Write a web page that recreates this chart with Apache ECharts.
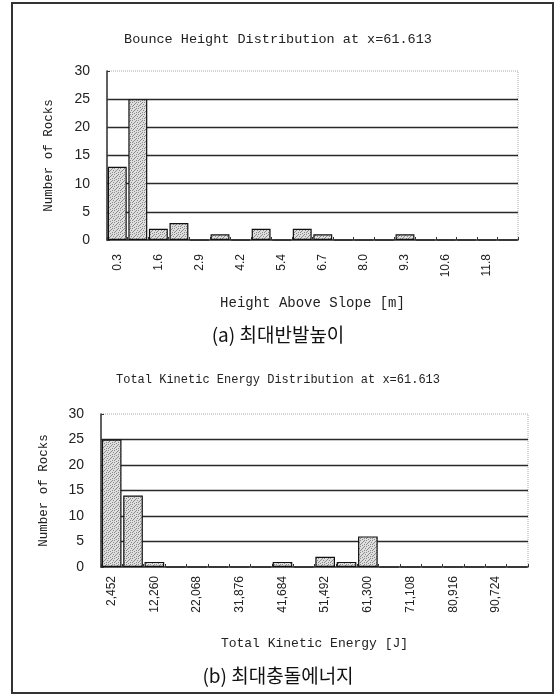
<!DOCTYPE html>
<html>
<head>
<meta charset="utf-8">
<script src="https://cdn.jsdelivr.net/npm/echarts@6/dist/echarts.min.js"></script>
<style>
  html, body { margin: 0; padding: 0; background: #fff; }
  #chart { width: 556px; height: 696px; }
</style>
</head>
<body>
<div id="chart"></div>
<script>
// Bounce height histogram (bins in metres)
const heightBins = ['0.3', '0.9', '1.6', '2.2', '2.9', '3.5', '4.2', '4.8', '5.4', '6.1',
                    '6.7', '7.3', '8.0', '8.6', '9.3', '9.9', '10.6', '11.2', '11.8', '12.5'];
const heightCounts = [13, 25, 2, 3, 0, 1, 0, 2, 0, 2, 1, 0, 0, 0, 1, 0, 0, 0, 0, 0];

// Total kinetic energy histogram (bins in joules)
const energyBins = ['2,452', '7,356', '12,260', '17,164', '22,068', '26,972', '31,876', '36,780',
                    '41,684', '46,588', '51,492', '56,396', '61,300', '66,204', '71,108', '76,012',
                    '80,916', '85,820', '90,724', '95,628'];
const energyCounts = [25, 14, 1, 0, 0, 0, 0, 0, 1, 0, 2, 1, 6, 0, 0, 0, 0, 0, 0, 0];

const yTicks = [0, 5, 10, 15, 20, 25, 30];

// Stippled grey fill for the bars
function stipple() {
  const c = document.createElement('canvas');
  c.width = 6; c.height = 6;
  const g = c.getContext('2d');
  g.fillStyle = '#dedede';
  g.fillRect(0, 0, 6, 6);
  g.fillStyle = '#8a8a8a';
  const dots = [[0,0],[3,1],[1,3],[4,4],[2,5],[5,2],[0,4],[4,0],[2,2]];
  dots.forEach(d => g.fillRect(d[0], d[1], 1, 1));
  return { image: c, repeat: 'repeat' };
}

const mono = 'Liberation Mono';
const ink = '#222';

function xAxisFor(idx, bins, name, nameSize, labelMargin, nameGap) {
  return {
    type: 'category', gridIndex: idx, data: bins,
    name: name, nameLocation: 'middle', nameGap: nameGap,
    nameTextStyle: { fontFamily: mono, fontSize: nameSize, color: ink },
    axisLine: { lineStyle: { color: '#333', width: 1.5 } },
    axisTick: { show: true, inside: true, length: 3, interval: 0, alignWithLabel: false,
                lineStyle: { color: '#333' } },
    axisLabel: { interval: 1, rotate: 90, margin: labelMargin, fontFamily: 'Liberation Sans',
                 fontSize: 12, color: ink },
    splitLine: { show: false }
  };
}

function yAxisFor(idx, nameGap) {
  return {
    type: 'value', gridIndex: idx, min: yTicks[0], max: yTicks[yTicks.length - 1], interval: 5,
    name: 'Number of Rocks', nameLocation: 'middle', nameRotate: 90, nameGap: nameGap,
    nameTextStyle: { fontFamily: mono, fontSize: 12.5, color: ink },
    axisLine: { show: true, lineStyle: { color: '#333', width: 1.5 } },
    axisTick: { show: true, inside: true, length: 3, lineStyle: { color: '#333' } },
    axisLabel: { margin: 17, fontFamily: 'Liberation Sans', fontSize: 14, color: ink },
    splitLine: { show: true, showMinLine: false, showMaxLine: false,
                 lineStyle: { color: '#2a2a2a', width: 1.4 } }
  };
}

function barSeries(idx, values) {
  return {
    type: 'bar', xAxisIndex: idx, yAxisIndex: idx, data: values,
    barCategoryGap: '8%',
    itemStyle: { color: stipple(), borderColor: '#111', borderWidth: 1.2 },
    silent: true
  };
}

const chart = echarts.init(document.getElementById('chart'), null, { renderer: 'canvas' });
chart.setOption({
  animation: false,
  backgroundColor: '#fff',
  title: [
    { text: 'Bounce Height Distribution at x=61.613', left: 'center', top: 27,
      textStyle: { fontFamily: mono, fontSize: 13.5, fontWeight: 'normal', color: ink } },
    { text: 'Total Kinetic Energy Distribution at x=61.613', left: 'center', top: 369,
      textStyle: { fontFamily: mono, fontSize: 12, fontWeight: 'normal', color: ink } },
    { text: '(a) 최대반발높이', left: 'center', top: 320,
      textStyle: { fontFamily: 'Noto Sans CJK KR', fontSize: 19, fontWeight: 'normal', color: '#111' } },
    { text: '(b) 최대충돌에너지', left: 'center', top: 661,
      textStyle: { fontFamily: 'Noto Sans CJK KR', fontSize: 19, fontWeight: 'normal', color: '#111' } }
  ],
  grid: [
    { left: 107, top: 71, width: 411, height: 169, show: true, borderColor: '#aaa',
      borderWidth: 1, borderType: 'dotted', backgroundColor: 'transparent' },
    { left: 101, top: 414, width: 427, height: 153, show: true, borderColor: '#aaa',
      borderWidth: 1, borderType: 'dotted', backgroundColor: 'transparent' }
  ],
  xAxis: [
    xAxisFor(0, heightBins, 'Height Above Slope [m]', 14, 14, 56),
    xAxisFor(1, energyBins, 'Total Kinetic Energy [J]', 13, 9, 70)
  ],
  yAxis: [ yAxisFor(0, 52), yAxisFor(1, 51) ],
  series: [ barSeries(0, heightCounts), barSeries(1, energyCounts) ],
  graphic: [
    { type: 'rect', shape: { x: 12, y: 3, width: 541, height: 690 },
      style: { fill: 'none', stroke: '#333', lineWidth: 2 }, silent: true }
  ]
});
</script>
</body>
</html>
